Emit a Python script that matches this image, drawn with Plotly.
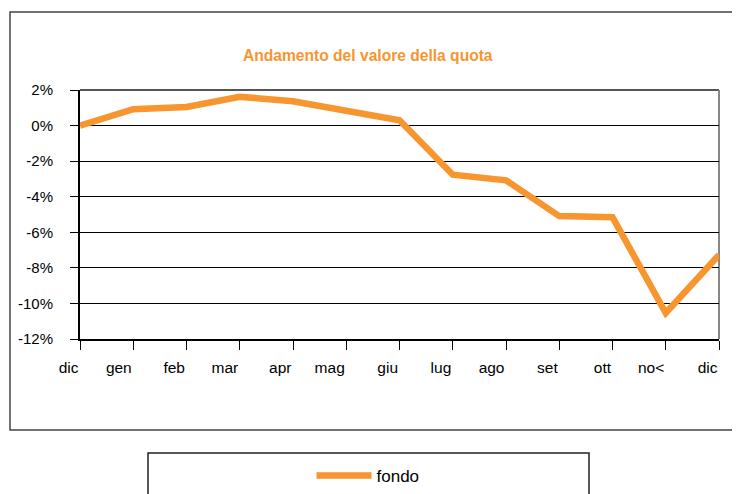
import plotly.graph_objects as go

# page is 740x494 but the html body has an 8px margin, so the figure is 732x486
PAGE_MARGIN = 8
W, H = 740 - PAGE_MARGIN, 494 - PAGE_MARGIN

months = ["dic", "gen", "feb", "mar", "apr", "mag", "giu", "lug", "ago", "set", "ott", "no<", "dic"]
fondo = [0.0, 0.92, 1.05, 1.62, 1.37, 0.86, 0.30, -2.76, -3.08, -5.09, -5.15, -10.54, -7.27]
y_ticks = [2, 0, -2, -4, -6, -8, -10, -12]

ORANGE = "#F7952F"
FONT = "Liberation Sans, Arial, sans-serif"

def fx(px):
    return (px - PAGE_MARGIN) / W

def fy(py):
    return 1 - (py - PAGE_MARGIN) / H

x_idx = list(range(len(months)))

fig = go.Figure()
fig.add_trace(go.Scatter(
    x=x_idx, y=fondo, mode="lines", name="fondo",
    line=dict(color=ORANGE, width=6.5),
))

L, R, T, B = 80, 719, 90, 339

fig.update_layout(
    width=W, height=H,
    margin=dict(l=0, r=0, t=0, b=0, autoexpand=False),
    paper_bgcolor="white", plot_bgcolor="white",
    font=dict(family=FONT, size=15, color="black"),
    showlegend=True,
    legend=dict(x=fx(368), y=fy(476), xanchor="center", yanchor="middle",
                orientation="h", itemwidth=55,
                font=dict(family=FONT, size=17, color="black"),
                bgcolor="rgba(0,0,0,0)"),
    xaxis=dict(
        domain=[fx(L), fx(R)], range=[0, 12], automargin=False,
        tickvals=x_idx, ticktext=months,
        ticks="outside", ticklen=9, tickcolor="black", tickwidth=1,
        ticklabelposition="outside left", ticklabelstandoff=13,
        showline=True, linecolor="black", linewidth=2,
        showgrid=False, zeroline=False,
        tickfont=dict(family=FONT, size=15.5),
    ),
    yaxis=dict(
        domain=[fy(B), fy(T)], range=[-12, 2], automargin=False,
        tickvals=y_ticks, ticktext=[f"{v}%" for v in y_ticks],
        ticks="outside", ticklen=8, tickcolor="black", tickwidth=1,
        ticklabelstandoff=14,
        showline=True, linecolor="black", linewidth=2,
        showgrid=True, gridcolor="black", gridwidth=1,
        zeroline=False,
        tickfont=dict(family=FONT, size=15),
    ),
    annotations=[dict(
        text="<b>Andamento del valore della quota</b>",
        x=fx(368), y=fy(55), xref="paper", yref="paper",
        xanchor="center", yanchor="middle", showarrow=False,
        font=dict(family=FONT, size=15.6, color=ORANGE),
    )],
    shapes=[
        # outer chart frame
        dict(type="rect", xref="paper", yref="paper",
             x0=fx(10), x1=fx(760), y0=fy(430), y1=fy(12),
             line=dict(color="#444444", width=1.5), layer="below"),
        # plot area top and right borders
        dict(type="line", xref="paper", yref="paper",
             x0=fx(L), x1=fx(R), y0=fy(T), y1=fy(T),
             line=dict(color="#555555", width=2), layer="below"),
        dict(type="line", xref="paper", yref="paper",
             x0=fx(R), x1=fx(R), y0=fy(T), y1=fy(B),
             line=dict(color="#888888", width=2), layer="below"),
        # legend box
        dict(type="rect", xref="paper", yref="paper",
             x0=fx(148), x1=fx(589), y0=fy(510), y1=fy(453),
             line=dict(color="#222222", width=1.5), layer="below"),
    ],
)

fig.write_html("out.html")
